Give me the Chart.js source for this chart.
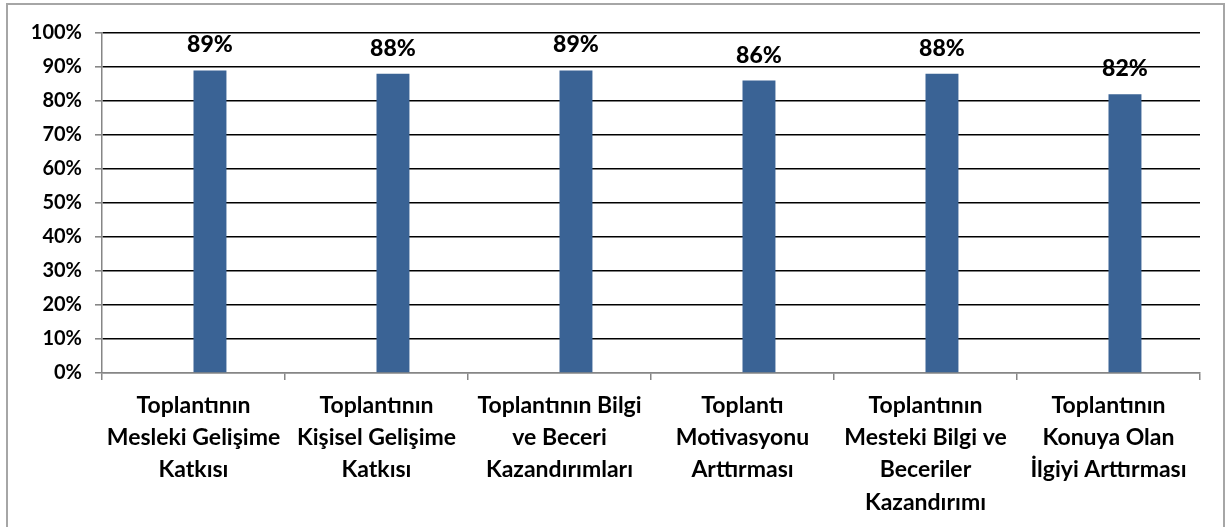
<!DOCTYPE html>
<html>
<head>
<meta charset="utf-8">
<script src="https://cdn.jsdelivr.net/npm/chart.js@4.4.0/dist/chart.umd.min.js"></script>
<style>
  html, body { margin: 0; padding: 0; background: #fff; }
  #frame {
    position: absolute; left: 6px; top: 3px;
    width: 1219px; height: 540px;
    border: 2px solid #a6a6a6; box-sizing: border-box;
  }
  #wrap { position: absolute; left: 0; top: 0; width: 1229px; height: 527px; }
</style>
</head>
<body>
<div id="frame"></div>
<div id="wrap"><canvas id="barChart"></canvas></div>
<script>
// chart data
const categories = [
    ["Toplantının", "Mesleki Gelişime", "Katkısı"],
    ["Toplantının", "Kişisel Gelişime", "Katkısı"],
    ["Toplantının Bilgi", "ve Beceri", "Kazandırımları"],
    ["Toplantı", "Motivasyonu", "Arttırması"],
    ["Toplantının", "Mesteki Bilgi ve", "Beceriler", "Kazandırımı"],
    ["Toplantının", "Konuya Olan", "İlgiyi Arttırması"]
];
const values = [89, 88, 89, 86, 88, 82];
const emptySeries = [null, null, null, null, null, null];
const yTicks = [0, 10, 20, 30, 40, 50, 60, 70, 80, 90, 100];

const FONT = "Lato, 'Open Sans', sans-serif";

// draws the "89%" labels above each bar
const valueLabels = {
    id: "valueLabels",
    afterDatasetsDraw(chart) {
        const c = chart.ctx;
        const meta = chart.getDatasetMeta(1);
        c.save();
        c.font = "900 23px " + FONT;
        c.fillStyle = "#000";
        c.textAlign = "center";
        c.textBaseline = "alphabetic";
        meta.data.forEach(function (bar, i) {
            c.fillText(values[i] + "%", bar.x, bar.y - 18);
        });
        c.restore();
    }
};

document.addEventListener("DOMContentLoaded", function () {
    const ctx = document.getElementById("barChart");
    new Chart(ctx, {
        type: "bar",
        data: {
            labels: categories,
            datasets: [{
                label: "empty",
                data: emptySeries,
                backgroundColor: "rgba(0,0,0,0)"
            }, {
                label: "Oran",
                data: values,
                backgroundColor: "#3a6395",
                borderWidth: 0
            }]
        },
        options: {
            responsive: true,
            maintainAspectRatio: false,
            animation: false,
            categoryPercentage: 0.36,
            barPercentage: 1.0,
            layout: { padding: { left: 10, right: 29, top: 33, bottom: 0 } },
            plugins: {
                legend: { display: false },
                tooltip: { enabled: false }
            },
            scales: {
                y: {
                    min: 0,
                    max: 100,
                    afterBuildTicks(scale) {
                        scale.ticks = yTicks.map(v => ({ value: v }));
                    },
                    afterFit(scale) { scale.width = 92; },
                    ticks: {
                        color: "#000",
                        padding: 13,
                        font: { family: FONT, size: 20, weight: "bold" },
                        callback: v => v + "%"
                    },
                    grid: {
                        color: c => c.tick && c.tick.value === 0 ? "#868686" : "#000",
                        lineWidth: c => c.tick && c.tick.value === 0 ? 1.5 : 1.6,
                        tickColor: "#868686",
                        tickLength: 7
                    },
                    border: { color: "#868686", width: 1.5 }
                },
                x: {
                    afterFit(scale) { scale.height = 154; },
                    ticks: {
                        color: "#000",
                        padding: 9,
                        maxRotation: 0,
                        autoSkip: false,
                        font: { family: FONT, size: 23, weight: "bold", lineHeight: 1.41 }
                    },
                    grid: {
                        offset: true,
                        drawOnChartArea: false,
                        color: "#868686",
                        tickLength: 7,
                        lineWidth: 1.5
                    },
                    border: { color: "#868686", width: 1.5 }
                }
            }
        },
        plugins: [valueLabels]
    });
});
</script>
</body>
</html>
